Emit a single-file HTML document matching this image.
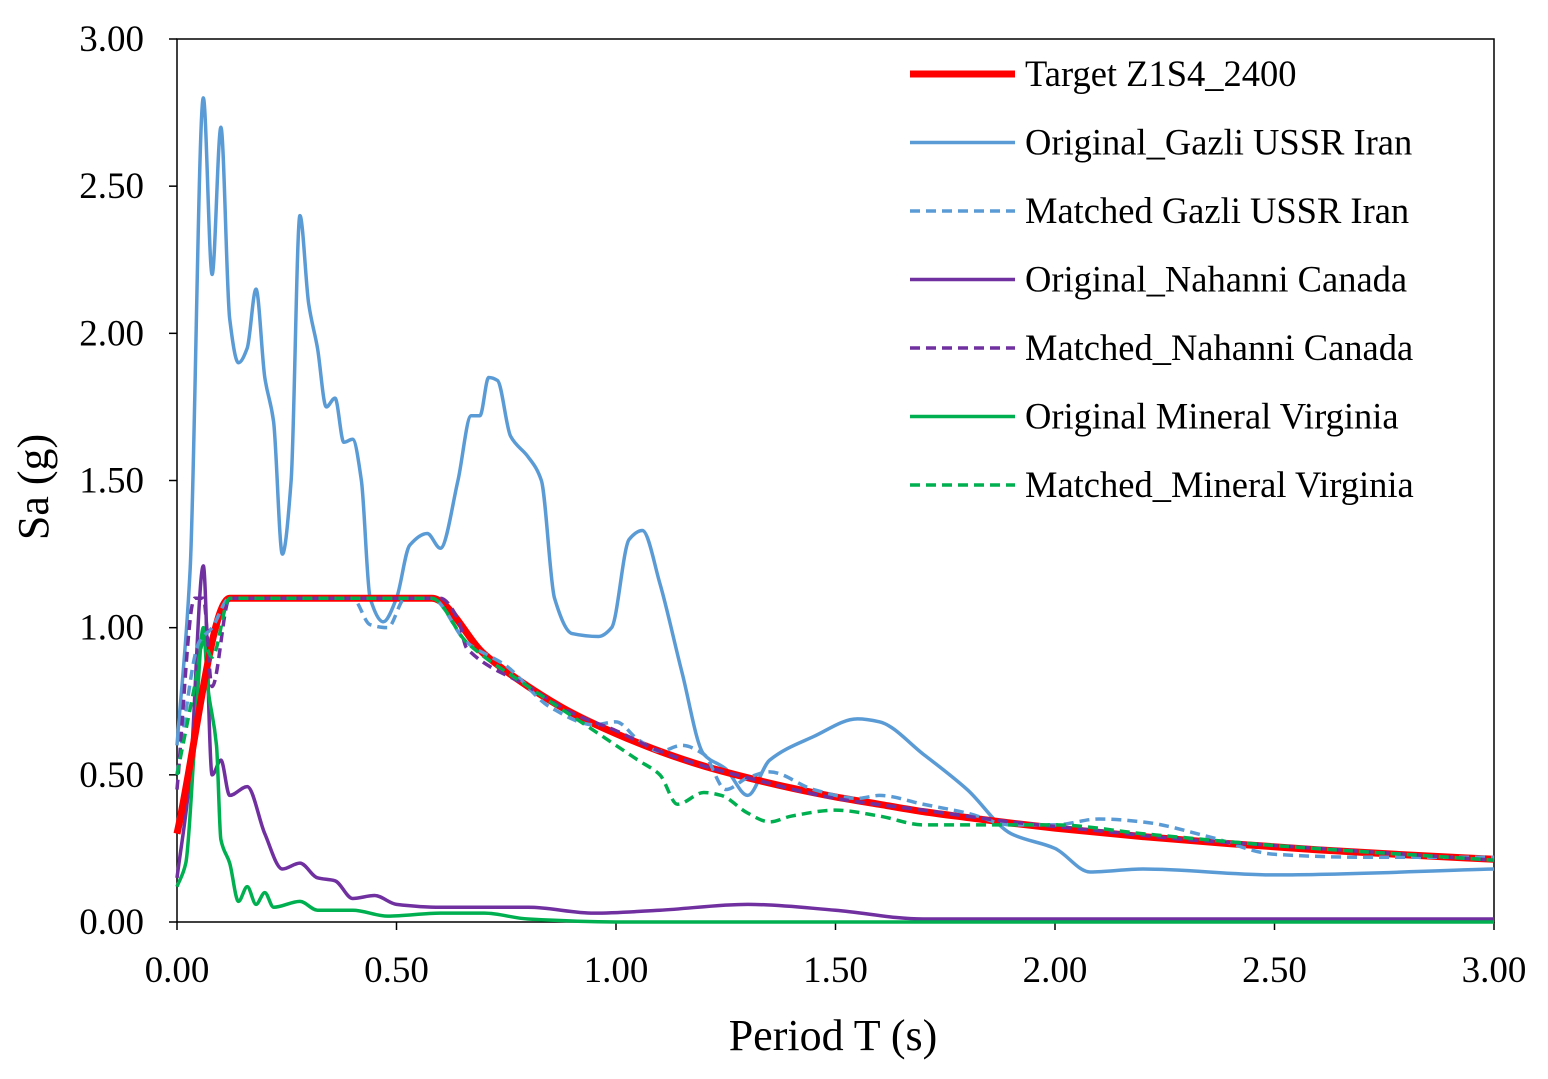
<!DOCTYPE html>
<html><head><meta charset="utf-8"><style>
body{margin:0;background:#fff}
svg text{font-family:"Liberation Serif",serif;fill:#000}
</style></head><body>
<svg id="chart" width="1548" height="1074" xmlns="http://www.w3.org/2000/svg">
<rect width="1548" height="1074" fill="#fff"/>
<g id="plot"></g>
<text x="0" y="0" font-size="44" text-anchor="middle" transform="translate(48,487) rotate(-90)">Sa (g)</text>
<text x="833" y="1050" font-size="44" text-anchor="middle">Period T (s)</text>
</svg>
<script>
const xTicks=[0,0.5,1.0,1.5,2.0,2.5,3.0];
const yTicks=[0,0.5,1.0,1.5,2.0,2.5,3.0];
const target=[[0,0.3],[0.12,1.1],[0.58,1.1],[0.7,0.91],[0.8,0.8],[0.9,0.71],[1.0,0.64],[1.1,0.58],[1.2,0.53],[1.3,0.49],[1.4,0.455],[1.5,0.425],[1.6,0.4],[1.7,0.375],[1.8,0.355],[1.9,0.336],[2.0,0.319],[2.2,0.29],[2.4,0.266],[2.6,0.245],[2.8,0.228],[3.0,0.213]];
const gazliOrig=[[0,0.6],[0.03,1.2],[0.06,2.8],[0.08,2.2],[0.1,2.7],[0.12,2.05],[0.14,1.9],[0.16,1.95],[0.18,2.15],[0.2,1.85],[0.22,1.7],[0.24,1.25],[0.26,1.5],[0.28,2.4],[0.3,2.1],[0.32,1.95],[0.34,1.75],[0.36,1.78],[0.38,1.63],[0.4,1.64],[0.42,1.5],[0.44,1.1],[0.47,1.02],[0.5,1.1],[0.53,1.28],[0.57,1.32],[0.6,1.27],[0.64,1.5],[0.67,1.72],[0.69,1.72],[0.71,1.85],[0.73,1.84],[0.76,1.65],[0.8,1.58],[0.83,1.5],[0.86,1.1],[0.9,0.98],[0.96,0.97],[0.99,1.0],[1.03,1.3],[1.06,1.33],[1.1,1.15],[1.15,0.85],[1.2,0.57],[1.25,0.52],[1.3,0.43],[1.35,0.55],[1.45,0.63],[1.55,0.69],[1.6,0.68],[1.7,0.57],[1.8,0.45],[1.9,0.3],[2.0,0.25],[2.08,0.17],[2.2,0.18],[2.5,0.16],[3.0,0.18]];
const gazliMatch=[[0,0.5],[0.05,0.95],[0.08,1.0],[0.12,1.1],[0.4,1.1],[0.44,1.01],[0.48,1.0],[0.52,1.1],[0.58,1.1],[0.66,0.95],[0.75,0.87],[0.85,0.73],[0.95,0.67],[1.0,0.68],[1.05,0.62],[1.1,0.58],[1.15,0.6],[1.2,0.57],[1.25,0.45],[1.3,0.49],[1.35,0.51],[1.45,0.45],[1.55,0.42],[1.6,0.43],[1.7,0.4],[1.8,0.37],[1.9,0.33],[2.0,0.33],[2.1,0.35],[2.2,0.34],[2.35,0.29],[2.5,0.23],[2.7,0.22],[3.0,0.22]];
const nahOrig=[[0,0.15],[0.03,0.5],[0.06,1.21],[0.08,0.5],[0.1,0.55],[0.12,0.43],[0.16,0.46],[0.2,0.3],[0.24,0.18],[0.28,0.2],[0.32,0.15],[0.36,0.14],[0.4,0.08],[0.45,0.09],[0.5,0.06],[0.6,0.05],[0.8,0.05],[0.95,0.03],[1.1,0.04],[1.3,0.06],[1.5,0.04],[1.7,0.01],[2.0,0.01],[2.5,0.01],[3.0,0.01]];
const nahMatch=[[0,0.45],[0.04,1.1],[0.06,1.1],[0.08,0.8],[0.12,1.1],[0.6,1.1],[0.64,1.03],[0.66,0.93],[0.8,0.8],[0.9,0.71],[1.0,0.65],[1.1,0.58],[1.2,0.53],[1.3,0.49],[1.5,0.42],[1.7,0.38],[1.9,0.34],[2.1,0.31],[2.3,0.28],[2.5,0.26],[2.8,0.23],[3.0,0.21]];
const minOrig=[[0,0.12],[0.02,0.2],[0.04,0.6],[0.06,1.0],[0.07,0.8],[0.09,0.6],[0.1,0.28],[0.12,0.2],[0.14,0.07],[0.16,0.12],[0.18,0.06],[0.2,0.1],[0.22,0.05],[0.28,0.07],[0.32,0.04],[0.4,0.04],[0.48,0.02],[0.6,0.03],[0.7,0.03],[0.8,0.01],[1.0,0.0],[3.0,0.0]];
const minMatch=[[0,0.5],[0.04,0.8],[0.06,0.95],[0.08,0.9],[0.12,1.1],[0.58,1.1],[0.66,0.95],[0.8,0.8],[0.95,0.65],[1.05,0.55],[1.1,0.5],[1.14,0.4],[1.2,0.44],[1.24,0.43],[1.3,0.37],[1.35,0.34],[1.4,0.36],[1.5,0.38],[1.6,0.36],[1.7,0.33],[1.8,0.33],[2.0,0.33],[2.2,0.3],[2.5,0.26],[3.0,0.21]];
const seriesNames=["Target Z1S4_2400","Original_Gazli USSR Iran","Matched Gazli USSR Iran","Original_Nahanni Canada","Matched_Nahanni Canada","Original Mineral Virginia","Matched_Mineral Virginia"];

const X0=177,X1=1494,Y0=922,Y1=39;
const xs=v=>X0+(X1-X0)*v/3;
const ys=v=>Y0-(Y0-Y1)*v/3;
const NS="http://www.w3.org/2000/svg";
const g=document.getElementById('plot');
function mk(t,a){const e=document.createElementNS(NS,t);for(const k in a)e.setAttribute(k,a[k]);return e;}
function smoothPath(pts){
  const p=pts.map(q=>[xs(q[0]),ys(q[1])]);
  const n=p.length, d=[], m=[];
  for(let i=0;i<n-1;i++){d.push((p[i+1][1]-p[i][1])/(p[i+1][0]-p[i][0]));}
  for(let i=0;i<n;i++){
    if(i===0)m.push(d[0]);else if(i===n-1)m.push(d[n-2]);
    else{const a=d[i-1],b=d[i];m.push(a*b<=0?0:2*a*b/(a+b));}
  }
  let s='M'+p[0][0]+','+p[0][1];
  for(let i=0;i<n-1;i++){
    const h=(p[i+1][0]-p[i][0])/3;
    s+=' C'+(p[i][0]+h)+','+(p[i][1]+m[i]*h)+' '+(p[i+1][0]-h)+','+(p[i+1][1]-m[i+1]*h)+' '+p[i+1][0]+','+p[i+1][1];
  }
  return s;
}
const frame=mk('rect',{x:X0,y:Y1,width:X1-X0,height:Y0-Y1,fill:'none',stroke:'#000','stroke-width':1.5});


g.appendChild(frame);
yTicks.forEach(v=>{
  const l=mk('line',{x1:X0-8,x2:X0,y1:ys(v),y2:ys(v),stroke:'#000','stroke-width':1.5});
  
  
  g.appendChild(l);
  const t=mk('text',{x:X0-33,y:ys(v)+12,'font-size':37,'text-anchor':'end'});
  t.textContent=v.toFixed(2);
  
  
  g.appendChild(t);
});
xTicks.forEach(v=>{
  const l=mk('line',{x1:xs(v),x2:xs(v),y1:Y0,y2:Y0+8,stroke:'#000','stroke-width':1.5});
  
  
  g.appendChild(l);
  const t=mk('text',{x:xs(v),y:Y0+60,'font-size':37,'text-anchor':'middle'});
  t.textContent=v.toFixed(2);
  
  
  g.appendChild(t);
});
const styles=[
 {d:target,c:'#ff0000',w:7,dash:''},
 {d:gazliOrig,c:'#5b9bd5',w:3.5,dash:''},
 {d:gazliMatch,c:'#5b9bd5',w:3.5,dash:'10,6'},
 {d:nahOrig,c:'#7030a0',w:3.5,dash:''},
 {d:nahMatch,c:'#7030a0',w:3.5,dash:'10,6'},
 {d:minOrig,c:'#00b050',w:3.5,dash:''},
 {d:minMatch,c:'#00b050',w:3.5,dash:'10,6'}];
const order=[1,3,5,0,2,4,6];
const keys=['target','gazli-original','gazli-matched','nahanni-original','nahanni-matched','mineral-original','mineral-matched'];
order.forEach(i=>{
  const s=styles[i];
  const p=mk('path',{d:smoothPath(s.d),fill:'none',stroke:s.c,'stroke-width':s.w,'stroke-dasharray':s.dash,'stroke-linejoin':'round'});
  
  
  g.appendChild(p);
});
seriesNames.forEach((n,i)=>{
  const y=74+i*68.5, s=styles[i];
  const l=mk('line',{x1:910,x2:1015,y1:y,y2:y,stroke:s.c,'stroke-width':s.w,'stroke-dasharray':s.dash});
  
  
  g.appendChild(l);
  const t=mk('text',{x:1025,y:y+12,'font-size':36.5});
  t.textContent=n;
  
  
  g.appendChild(t);
});
</script>
</body></html>
